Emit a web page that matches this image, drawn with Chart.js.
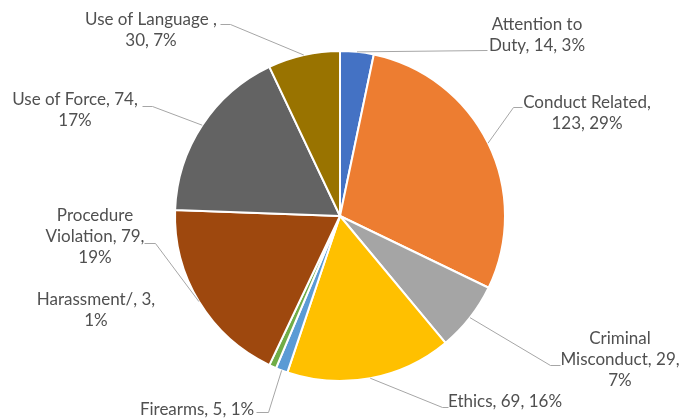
<!DOCTYPE html>
<html>
<head>
<meta charset="utf-8">
<script src="https://cdn.jsdelivr.net/npm/chart.js@4/dist/chart.umd.min.js"></script>
<style>
  html, body { margin: 0; padding: 0; background: #ffffff; }
  #wrap { width: 693px; height: 420px; position: relative; }
</style>
</head>
<body>
<div id="wrap"><canvas id="c" width="693" height="420"></canvas></div>
<script>
// ---- data ----
const categories = ["Attention to Duty", "Conduct Related", "Criminal Misconduct", "Ethics", "Firearms", "Harassment/", "Procedure Violation", "Use of Force", "Use of Language "];
const values = [14, 123, 29, 69, 5, 3, 79, 74, 30];
const colors = ["#4472C4", "#ED7D31", "#A5A5A5", "#FFC000", "#5B9BD5", "#70AD47", "#9E480E", "#636363", "#997300"];

// ---- label layout (words per line, text centre, first line middle, leader elbow/end) ----
const lineGroups = [[2, 3], [2, 2], [1, 2, 1], [3], [3], [2, 1], [1, 2, 1], [4, 1], [4, 2]];
const labelCenters = [[537, 25], [587, 103], [620, 339], [505, 402], [197, 410], [96, 300], [95, 216], [75, 100], [151, 20]];
const leaderPaths = [
  [[487, 50]],
  [[513, 107], [522, 107]],
  [[550, 365], [560, 365]],
  [[442, 407], [448, 407]],
  [[268, 412], [256, 412]],
  null,
  [[155, 243], [144, 243]],
  [[152, 106], [142, 106]],
  [[230, 24], [220, 24]]
];
const LINE_H = 21;

const total = values.reduce((a, b) => a + b, 0);

function labelLines(i) {
  const pct = Math.round(values[i] / total * 100);
  const words = (categories[i] + ", " + values[i] + ", " + pct + "%").split(/\s+/);
  const out = [];
  let k = 0;
  for (const n of lineGroups[i]) { out.push(words.slice(k, k + n).join(" ")); k += n; }
  return out;
}

const labelPlugin = {
  id: "excelLabels",
  afterDatasetsDraw(chart) {
    const ctx = chart.ctx;
    const meta = chart.getDatasetMeta(0);
    ctx.save();
    meta.data.forEach((arc, i) => {
      const p = arc.getProps(["x", "y", "startAngle", "endAngle", "outerRadius"], true);
      const mid = (p.startAngle + p.endAngle) / 2;
      const ax = p.x + Math.cos(mid) * p.outerRadius;
      const ay = p.y + Math.sin(mid) * p.outerRadius;
      if (leaderPaths[i]) {
        ctx.beginPath();
        ctx.strokeStyle = "#A6A6A6";
        ctx.lineWidth = 1;
        ctx.moveTo(ax, ay);
        leaderPaths[i].forEach(pt => ctx.lineTo(pt[0] + 0.5, pt[1] + 0.5));
        ctx.stroke();
      }
      const lines = labelLines(i);
      ctx.fillStyle = "#505050";
      ctx.font = "17px Lato, 'Open Sans', sans-serif";
      ctx.textAlign = "center";
      ctx.textBaseline = "middle";
      lines.forEach((t, j) => {
        ctx.fillText(t, labelCenters[i][0], labelCenters[i][1] + j * LINE_H);
      });
    });
    ctx.restore();
  }
};

new Chart(document.getElementById("c"), {
  type: "pie",
  data: {
    labels: categories,
    datasets: [{
      data: values,
      backgroundColor: colors,
      borderColor: "#ffffff",
      borderWidth: 2
    }]
  },
  options: {
    responsive: false,
    animation: false,
    layout: { padding: { left: 174, right: 187, top: 50, bottom: 38 } },
    plugins: {
      legend: { display: false },
      tooltip: { enabled: false }
    }
  },
  plugins: [labelPlugin]
});
</script>
</body>
</html>
